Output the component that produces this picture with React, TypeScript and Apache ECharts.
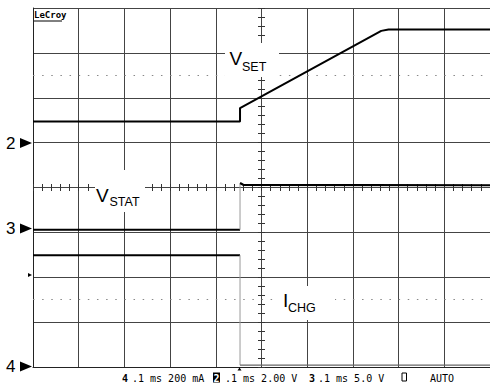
import React, { useEffect, useRef } from "react";
import * as echarts from "echarts";

// Screen is 10 horizontal x 8 vertical divisions; values are in divisions.
const vsetX = [0, 4.53, 4.53, 7.62, 7.78, 10];
const vsetY = [5.47, 5.47, 5.77, 7.49, 7.52, 7.52];

const vstatLowX = [0, 4.53];
const vstatLowY = [3.06, 3.06];
const vstatEdgeX = [4.53, 4.53];
const vstatEdgeY = [3.06, 4.08];
const vstatHighX = [4.53, 4.6, 10];
const vstatHighY = [4.1, 4.06, 4.05];

const ichgHighX = [0, 4.53];
const ichgHighY = [2.49, 2.49];
const ichgEdgeX = [4.53, 4.53];
const ichgEdgeY = [2.49, 0.04];
const ichgLowX = [4.53, 10];
const ichgLowY = [0.04, 0.04];

const dottedLevels = [6.5, 1.5];

const bottomTexts = [".1 ms 200 mA", ".1 ms 2.00 V", ".1 ms 5.0 V", "AUTO"];

const zip = (xs: number[], ys: number[]) => xs.map((x, i) => [x, ys[i]]);

export default function App() {
  const ref = useRef<HTMLDivElement>(null);
  useEffect(() => {
    if (!ref.current) return;
    const chart = echarts.init(ref.current, null, { renderer: "svg" });
    const gridColor = "#444";
    const tickAxisX = (inside: boolean) => ({
      type: "value",
      min: 0,
      max: 10,
      interval: 1,
      position: "bottom",
      offset: -179.5,
      axisLine: { show: false, onZero: false },
      axisTick: { show: true, inside, length: 3.5, lineStyle: { color: "#333", width: 1 } },
      minorTick: { show: true, splitNumber: 5, length: 3.5, lineStyle: { color: "#333", width: 1 } },
      axisLabel: { show: false },
      splitLine: { show: false },
    });
    const tickAxisY = (inside: boolean) => ({
      type: "value",
      min: 0,
      max: 8,
      interval: 1,
      position: "left",
      offset: -228.5,
      axisLine: { show: false, onZero: false },
      axisTick: { show: true, inside, length: 3.5, lineStyle: { color: "#333", width: 1 } },
      minorTick: { show: true, splitNumber: 5, length: 3.5, lineStyle: { color: "#333", width: 1 } },
      axisLabel: { show: false },
      splitLine: { show: false },
    });
    const trace = (data: number[][], color = "#000", width = 2) => ({
      type: "line",
      data,
      xAxisIndex: 0,
      yAxisIndex: 0,
      symbol: "none",
      silent: true,
      z: 5,
      lineStyle: { color, width },
    });
    const txt = (x: number, y: number, text: string, size: number, extra: any = {}) => ({
      type: "text",
      x,
      y,
      z: 101,
      style: {
        text,
        fill: "#000",
        fontSize: size,
        fontFamily: "Liberation Sans, Arial, sans-serif",
        align: "left",
        verticalAlign: "middle",
        textAlign: "left",
        textVerticalAlign: "middle",
        ...extra,
      },
    });
    const mono = (x: number, text: string, extra: any = {}) =>
      txt(x, 378, text, 10, { fontFamily: "DejaVu Sans Mono, monospace", ...extra });
    const whiteBox = (x: number, y: number, w: number, h: number) => ({
      type: "rect",
      z: 100,
      shape: { x, y, width: w, height: h },
      style: { fill: "#fff" },
    });
    const tri = (x: number, y: number, w: number, h: number) => ({
      type: "polygon",
      z: 101,
      shape: { points: [[x, y - h / 2], [x + w, y], [x, y + h / 2]] },
      style: { fill: "#000" },
    });

    chart.setOption({
      animation: false,
      backgroundColor: "#fff",
      grid: { left: 33, top: 8, right: 0, bottom: 19, show: false },
      xAxis: [
        {
          type: "value",
          min: 0,
          max: 10,
          interval: 1,
          axisLine: { show: true, onZero: false, lineStyle: { color: "#222", width: 1 } },
          axisTick: { show: false },
          axisLabel: { show: false },
          splitLine: { show: true, lineStyle: { color: gridColor, width: 1 } },
        },
        tickAxisX(true),
        tickAxisX(false),
      ],
      yAxis: [
        {
          type: "value",
          min: 0,
          max: 8,
          interval: 1,
          axisLine: { show: true, onZero: false, lineStyle: { color: "#222", width: 1 } },
          axisTick: { show: false },
          axisLabel: { show: false },
          splitLine: { show: true, lineStyle: { color: gridColor, width: 1 } },
        },
        tickAxisY(true),
        tickAxisY(false),
      ],
      series: [
        {
          ...trace(zip(vsetX, vsetY)),
          markLine: {
            symbol: "none",
            silent: true,
            label: { show: false },
            lineStyle: { type: [1.5, 7.64], color: "#888", width: 1 },
            data: dottedLevels.map((v) => ({ yAxis: v })),
          },
        },
        trace(zip(vstatLowX, vstatLowY)),
        trace(zip(vstatEdgeX, vstatEdgeY), "#999", 1),
        trace(zip(vstatHighX, vstatHighY), "#000", 2.2),
        trace(zip(ichgHighX, ichgHighY)),
        trace(zip(ichgEdgeX, ichgEdgeY), "#999", 1),
        trace(zip(ichgLowX, ichgLowY), "#666", 1.2),
      ],
      graphic: [
        // label backgrounds
        whiteBox(225, 43, 54, 34),
        whiteBox(95, 170, 50, 42),
        whiteBox(277, 286, 58, 34),
        // labels
        txt(229.5, 58.5, "V", 19),
        txt(242, 67, "SET", 12.5),
        txt(96, 195, "V", 19),
        txt(109.5, 202, "STAT", 12.5),
        txt(283, 300.5, "I", 19),
        txt(288, 308, "CHG", 12.5),
        // LeCroy logo
        txt(34, 15, "LeCroy", 9, { fontWeight: "bold", fontFamily: "DejaVu Sans Mono, monospace" }),
        { type: "line", z: 101, shape: { x1: 34, y1: 21, x2: 62, y2: 21 }, style: { stroke: "#000", lineWidth: 1 } },
        // channel markers
        txt(6, 143, "2", 17),
        tri(20, 143, 12, 10),
        txt(6, 228.5, "3", 17),
        tri(20, 228.5, 12, 10),
        txt(6, 366.5, "4", 17),
        tri(20, 366.5, 12, 10),
        tri(28, 275, 4, 4),
        {
          type: "polygon",
          z: 101,
          shape: { points: [[237.5, 370.5], [239.5, 367.5], [241.5, 370.5]] },
          style: { fill: "#000" },
        },
        // bottom status line
        mono(122, "4", { fontWeight: "bold" }),
        mono(132, bottomTexts[0]),
        { type: "rect", z: 100, shape: { x: 213, y: 372.5, width: 7, height: 10 }, style: { fill: "#000" } },
        mono(213.5, "2", { fill: "#fff", fontWeight: "bold" }),
        mono(225, bottomTexts[1]),
        mono(309, "3", { fontWeight: "bold" }),
        mono(318, bottomTexts[2]),
        {
          type: "rect",
          z: 100,
          shape: { x: 402, y: 373, width: 4.5, height: 8 },
          style: { fill: "none", stroke: "#000", lineWidth: 1 },
        },
        mono(430, bottomTexts[3]),
      ],
    });
    return () => chart.dispose();
  }, []);
  return (
    <div
      ref={ref}
      style={{ position: "fixed", left: 0, top: 0, width: 490, height: 386, background: "#fff" }}
    />
  );
}
